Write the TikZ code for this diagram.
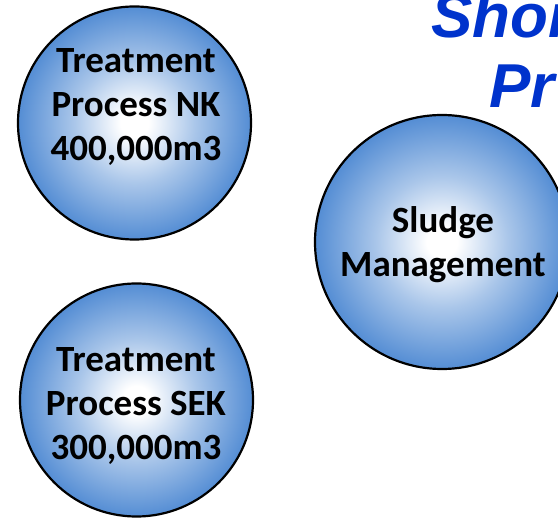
\documentclass[tikz,border=0pt]{standalone}
\usepackage{fontspec}
\setmainfont{Carlito}
\newfontfamily\titlefont{Liberation Sans}
\definecolor{ballblue}{RGB}{84,141,212}
\definecolor{titleblue}{RGB}{0,51,204}
\pgfdeclareradialshading{ballshade}{\pgfpoint{0bp}{0bp}}{color(0bp)=(white); color(3bp)=(white); color(13bp)=(ballblue!50!white); color(25bp)=(ballblue); color(50bp)=(ballblue)}
\begin{document}
\begin{tikzpicture}[x=1pt,y=-1pt,
  ball/.style={circle, draw=black, line width=2.2pt, shading=ballshade, minimum size=#1, inner sep=0pt},
  lbl/.style={font=\bfseries\fontsize{37}{44}\selectfont, align=center, inner sep=0pt, text=black},
  ttl/.style={font=\titlefont\bfseries\itshape\fontsize{62}{70}\selectfont, text=titleblue, inner sep=0pt, anchor=base west}]
\useasboundingbox (0,0) rectangle (558,518);
\clip (0,0) rectangle (558,518);
\node[ttl] (t1) at (431,38) {Shor};
\node[ttl] (t2) at (489,108) {Pr};
\node[ball=233pt] (nk) at (134.5,123) {};
\node[lbl] (nktext) at (136,107) {Treatment\\Process NK\\400,000m3};
\node[ball=254pt] (sl) at (442,242) {};
\node[lbl] (sltext) at (443,245) {Sludge\\Management};
\node[ball=233pt] (sek) at (136.5,400) {};
\node[lbl] (sektext) at (136,406) {Treatment\\Process SEK\\300,000m3};
\end{tikzpicture}
\end{document}
